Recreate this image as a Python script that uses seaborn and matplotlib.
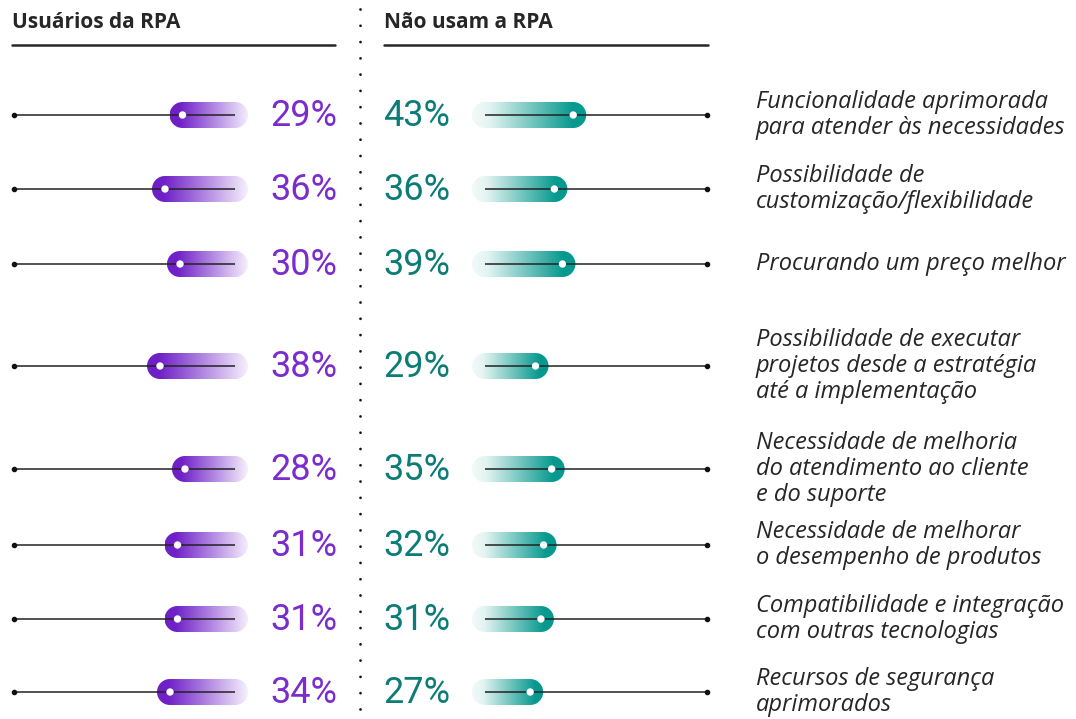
import numpy as np
import pandas as pd
import matplotlib.pyplot as plt
from matplotlib.colors import LinearSegmentedColormap
from matplotlib.patches import Polygon
from matplotlib.lines import Line2D
from matplotlib.transforms import IdentityTransform, blended_transform_factory
import seaborn as sns

factors = [
    "Funcionalidade aprimorada\npara atender às necessidades",
    "Possibilidade de\ncustomização/flexibilidade",
    "Procurando um preço melhor",
    "Possibilidade de executar\nprojetos desde a estratégia\naté a implementação",
    "Necessidade de melhoria\ndo atendimento ao cliente\ne do suporte",
    "Necessidade de melhorar\no desempenho de produtos",
    "Compatibilidade e integração\ncom outras tecnologias",
    "Recursos de segurança\naprimorados",
]
users_pct = [29, 36, 30, 38, 28, 31, 31, 34]
non_users_pct = [43, 36, 39, 29, 35, 32, 31, 27]

# layout (pixel rows, track extents in value units)
row_y = [115, 189, 264, 366, 469, 545, 619, 692]
W, H = 1076, 719
left_track = (96.4, 8.0)
right_track = (10.2, 92.6)
cap_h = 26

df = pd.DataFrame({"factor": factors, "y": row_y,
                   "users": users_pct, "non_users": non_users_pct})

sns.set_theme(style="white")
plt.rcParams["font.family"] = ["Roboto", "DejaVu Sans"]

purple = "#6f20c6"
purple_txt = "#7a2ccd"
teal = "#07998f"
teal_txt = "#0b7c76"
ink = "#262626"

cmap_l = LinearSegmentedColormap.from_list(
    "pl", [(0, purple), (0.12, purple), (1, "#f6f0fd")])
cmap_r = LinearSegmentedColormap.from_list(
    "tl", [(0, "#f2faf9"), (0.15, "#e3f4f2"), (0.88, teal), (1, teal)])

fig = plt.figure(figsize=(W / 100, H / 100), dpi=100)
ax_l = fig.add_axes([0, 0, 360 / W, 1])
ax_r = fig.add_axes([360 / W, 0, 380 / W, 1])
ax_l.set_xlim(102, -42)
ax_r.set_xlim(-36.25, 105.0)
for ax in (ax_l, ax_r):
    ax.set_ylim(H, 0)
    ax.set_autoscale_on(False)
    ax.axis("off")


def capsule(ax, v, end, y, cmap):
    p1 = ax.transData.transform((v, y))
    p2 = ax.transData.transform((end, y))
    r = cap_h / 2
    xa, xb = min(p1[0], p2[0]), max(p1[0], p2[0])
    yc = p1[1]
    t1 = np.linspace(np.pi / 2, 3 * np.pi / 2, 40)
    t2 = np.linspace(-np.pi / 2, np.pi / 2, 40)
    pts = np.vstack([np.c_[xa + r * np.cos(t1), yc + r * np.sin(t1)],
                     np.c_[xb + r * np.cos(t2), yc + r * np.sin(t2)]])
    patch = Polygon(pts, closed=True, transform=IdentityTransform())
    inv = ax.transData.inverted()
    dl = inv.transform((xa - r, yc))[0]
    dr = inv.transform((xb + r, yc))[0]
    grad = cmap(np.linspace(0, 1, 256))[None, :, :]
    im = ax.imshow(grad, extent=(dl, dr, y + cap_h, y - cap_h), aspect="auto",
                   interpolation="bilinear", zorder=2)
    im.set_clip_path(patch)


for _, r in df.iterrows():
    capsule(ax_l, r["users"], left_track[1], r["y"], cmap_l)
    capsule(ax_r, r["non_users"], right_track[0], r["y"], cmap_r)

# tracks
ax_l.hlines(df["y"], left_track[0], left_track[1], color="#222222", lw=1.1, zorder=3)
ax_r.hlines(df["y"], right_track[0], right_track[1], color="#222222", lw=1.1, zorder=3)
ax_l.scatter([left_track[0]] * len(df), df["y"], s=9, color="#111111", zorder=4)
ax_r.scatter([right_track[1]] * len(df), df["y"], s=9, color="#111111", zorder=4)

# value markers
sns.scatterplot(data=df, x="users", y="y", ax=ax_l, color="white", s=28,
                edgecolor="none", zorder=5, legend=False)
sns.scatterplot(data=df, x="non_users", y="y", ax=ax_r, color="white", s=28,
                edgecolor="none", zorder=5, legend=False)
for ax in (ax_l, ax_r):
    ax.set_xlabel("")
    ax.set_ylabel("")
    ax.set_ylim(H, 0)
ax_l.set_xlim(102, -42)
ax_r.set_xlim(-36.25, 105.0)

# percentage labels and factor names
tl = blended_transform_factory(fig.transFigure, ax_l.transData)
tr = blended_transform_factory(fig.transFigure, ax_r.transData)
for _, r in df.iterrows():
    ax_l.text(337 / W, r["y"] + 1, f"{r['users']}%", transform=tl, ha="right",
              va="center", fontsize=26, color=purple_txt)
    ax_r.text(383 / W, r["y"] + 1, f"{r['non_users']}%", transform=tr, ha="left",
              va="center", fontsize=26, color=teal_txt)
    ax_r.text(756 / W, r["y"], r["factor"], transform=tr, ha="left", va="center",
              fontsize=17, fontstyle="italic", color=ink, linespacing=1.1,
              family=["Open Sans", "DejaVu Sans"])

# headers
for x0, x1, title in [(12, 335, "Usuários da RPA"), (384, 708, "Não usam a RPA")]:
    fig.text(x0 / W, 1 - 22 / H, title, fontsize=15, fontweight="bold",
             color=ink, va="center", ha="left", family=["Open Sans", "DejaVu Sans"])
    fig.add_artist(Line2D([x0 / W, x1 / W], [1 - 45 / H] * 2, color=ink, lw=1.8))

# dotted divider
fig.add_artist(Line2D([360 / W] * 2, [1 - 9 / H, 0], color="#111111", lw=2.0,
                      linestyle=(0, (0.01, 5.85)), dash_capstyle="round"))

fig.savefig("out.png", dpi=100, facecolor="white")
